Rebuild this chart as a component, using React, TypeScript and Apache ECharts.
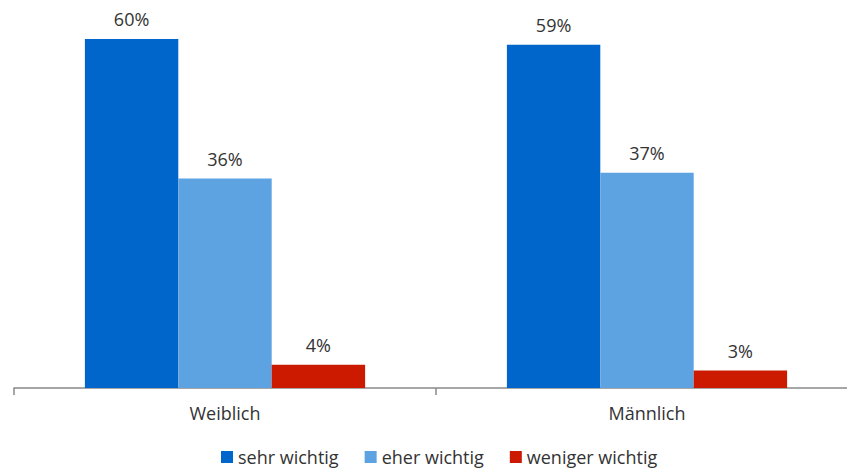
import React, { useEffect, useRef } from "react";
import * as echarts from "echarts";

const categories = ["Weiblich", "Männlich"];
const seriesNames = ["sehr wichtig", "eher wichtig", "weniger wichtig"];
const sehrWichtig = [60, 59];
const eherWichtig = [36, 37];
const wenigerWichtig = [4, 3];
const colors = ["#0066CC", "#5DA3E2", "#CC1A00"];

export default function App() {
  const ref = useRef<HTMLDivElement>(null);
  useEffect(() => {
    if (!ref.current) return;
    const chart = echarts.init(ref.current, null, { renderer: "svg" });
    const font = "'Open Sans', 'Noto Sans', sans-serif";
    const label = {
      show: true,
      position: "top" as const,
      distance: 11,
      formatter: "{c}%",
      fontSize: 18,
      color: "#333",
      fontFamily: font,
    };
    const datas = [sehrWichtig, eherWichtig, wenigerWichtig];
    chart.setOption({
      animation: false,
      textStyle: { fontFamily: font },
      grid: { left: 14, right: 12, top: 39, bottom: 84, containLabel: false },
      xAxis: {
        type: "category",
        data: categories,
        axisLine: { lineStyle: { color: "#888", width: 1.5 } },
        axisTick: { show: true, length: 7, lineStyle: { color: "#888", width: 1.5 } },
        axisLabel: { fontSize: 18, color: "#333", margin: 16, fontFamily: font },
      },
      yAxis: {
        type: "value",
        min: 0,
        max: 60,
        show: false,
        splitLine: { show: false },
      },
      legend: {
        bottom: 1,
        left: 216,
        itemWidth: 12,
        itemHeight: 12,
        itemGap: 26,
        icon: "rect",
        textStyle: { fontSize: 18, color: "#333", fontFamily: font },
        data: seriesNames,
      },
      series: seriesNames.map((name, i) => ({
        name,
        type: "bar",
        data: datas[i],
        itemStyle: { color: colors[i] },
        barGap: "0%",
        barCategoryGap: "33.6%",
        label,
      })),
    });
    return () => chart.dispose();
  }, []);
  return (
    <div style={{ position: "absolute", left: 0, top: 0, width: 847, height: 472, overflow: "hidden" }}>
      <div ref={ref} style={{ width: 870, height: 472 }} />
    </div>
  );
}
